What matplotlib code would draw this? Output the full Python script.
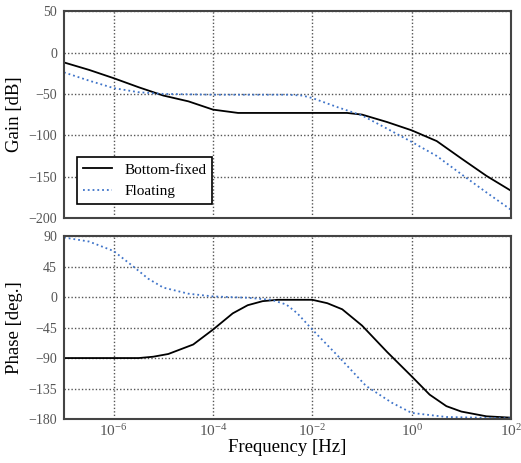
import matplotlib
matplotlib.use("Agg")
import matplotlib.pyplot as plt
from matplotlib.ticker import FixedLocator, NullFormatter, FuncFormatter

plt.rcParams['font.family'] = ['Liberation Serif', 'DejaVu Serif']
plt.rcParams['mathtext.fontset'] = 'custom'
plt.rcParams['mathtext.rm'] = 'Liberation Serif'
plt.rcParams['mathtext.it'] = 'Liberation Serif:italic'

# gain [dB]
gain_fixed_f = [1e-7, 3.2e-7, 1e-6, 3.2e-6, 1e-5, 3.2e-5, 1e-4, 3.2e-4, 1e-3, 1e-2,
                5e-2, 1e-1, 3.2e-1, 1.0, 3.2, 10.0, 32.0, 100.0]
gain_fixed = [-12, -21, -31, -42, -52, -59, -69, -73, -73, -73,
              -73, -75, -84, -94, -107, -128, -149, -167]

gain_float_f = [1e-7, 3.2e-7, 1e-6, 3.2e-6, 1e-5, 1e-4, 1e-3, 3.2e-3, 6.3e-3, 1e-2,
                3.2e-2, 1e-1, 3.2e-1, 1.0, 3.2, 10.0, 32.0, 100.0]
gain_float = [-24, -34, -43, -48, -50, -51, -51, -51, -52, -55,
              -66, -76, -92, -108, -125, -147, -169, -190]

# phase [deg.]
phase_fixed_f = [1e-7, 1e-6, 3.2e-6, 6.3e-6, 1.26e-5, 4e-5, 1e-4, 2.5e-4, 5e-4, 1e-3,
                 2e-3, 1e-2, 2e-2, 4e-2, 1e-1, 3.2e-1, 1.0, 2.3, 5.0, 10.0, 32.0, 100.0]
phase_fixed = [-90, -90, -90, -88, -84, -70, -48, -24, -12, -6,
               -4, -4, -9, -18, -42, -81, -117, -144, -161, -169, -176, -178]

phase_float_f = [1e-7, 3.2e-7, 1e-6, 2.5e-6, 5e-6, 1e-5, 3.2e-5, 1e-4, 5e-4, 1.5e-3,
                 3e-3, 5e-3, 1e-2, 3.6e-2, 1.2e-1, 4e-1, 1.0, 5.0, 100.0]
phase_float = [88, 82, 68, 45, 27, 14, 5, 1, -1, -4,
               -11, -24, -48, -90, -131, -156, -171, -177, -179]

xticks = [1e-6, 1e-4, 1e-2, 1e0, 1e2]
xtick_exp = ['-6', '-4', '-2', '0', '2']
gain_ticks = [50, 0, -50, -100, -150, -200]
phase_ticks = [90, 45, 0, -45, -90, -135, -180]

fig = plt.figure(figsize=(5.21, 4.63), dpi=100)
ax1 = fig.add_axes([0.1228, 0.529, 0.858, 0.447])
ax2 = fig.add_axes([0.1228, 0.095, 0.858, 0.395])

blue = '#3f74c9'

ax1.plot(gain_fixed_f, gain_fixed, color='black', lw=1.3, label='Bottom-fixed')
ax1.plot(gain_float_f, gain_float, color=blue, lw=1.3, ls=':', label='Floating')
ax2.plot(phase_fixed_f, phase_fixed, color='black', lw=1.3)
ax2.plot(phase_float_f, phase_float, color=blue, lw=1.3, ls=':')

for ax in (ax1, ax2):
    ax.set_xscale('log')
    ax.set_xlim(1e-7, 1e2)
    ax.xaxis.set_major_locator(FixedLocator(xticks))
    ax.xaxis.set_minor_locator(FixedLocator([]))
    ax.grid(True, color='#555555', ls=(0, (1, 1.5)), lw=1.0)
    ax.tick_params(length=0, labelsize=10, labelcolor='#555555', pad=5)
    for s in ax.spines.values():
        s.set_color('#444444')
        s.set_linewidth(1.5)

ax1.set_ylim(-200, 50)
ax1.set_yticks(gain_ticks)
ax1.xaxis.set_major_formatter(NullFormatter())
ax1.set_ylabel('Gain [dB]', fontsize=13.5, labelpad=4)

ax2.set_ylim(-180, 90)
ax2.set_yticks(phase_ticks)
ax2.xaxis.set_major_formatter(
    FuncFormatter(lambda v, i: r'$10^{\mathregular{%s}}$' % xtick_exp[i]))
ax2.tick_params(axis='x', labelsize=11, pad=3)
ax2.set_ylabel('Phase [deg.]', fontsize=13.5, labelpad=4)
ax2.set_xlabel('Frequency [Hz]', fontsize=13.5, labelpad=0)

leg = ax1.legend(loc='lower left', bbox_to_anchor=(0.029, 0.068), borderaxespad=0,
                 fontsize=11, fancybox=False, framealpha=1, handlelength=1.9)
leg.get_frame().set_edgecolor('black')
leg.get_frame().set_linewidth(1.2)

fig.savefig('out.png', dpi=100)
